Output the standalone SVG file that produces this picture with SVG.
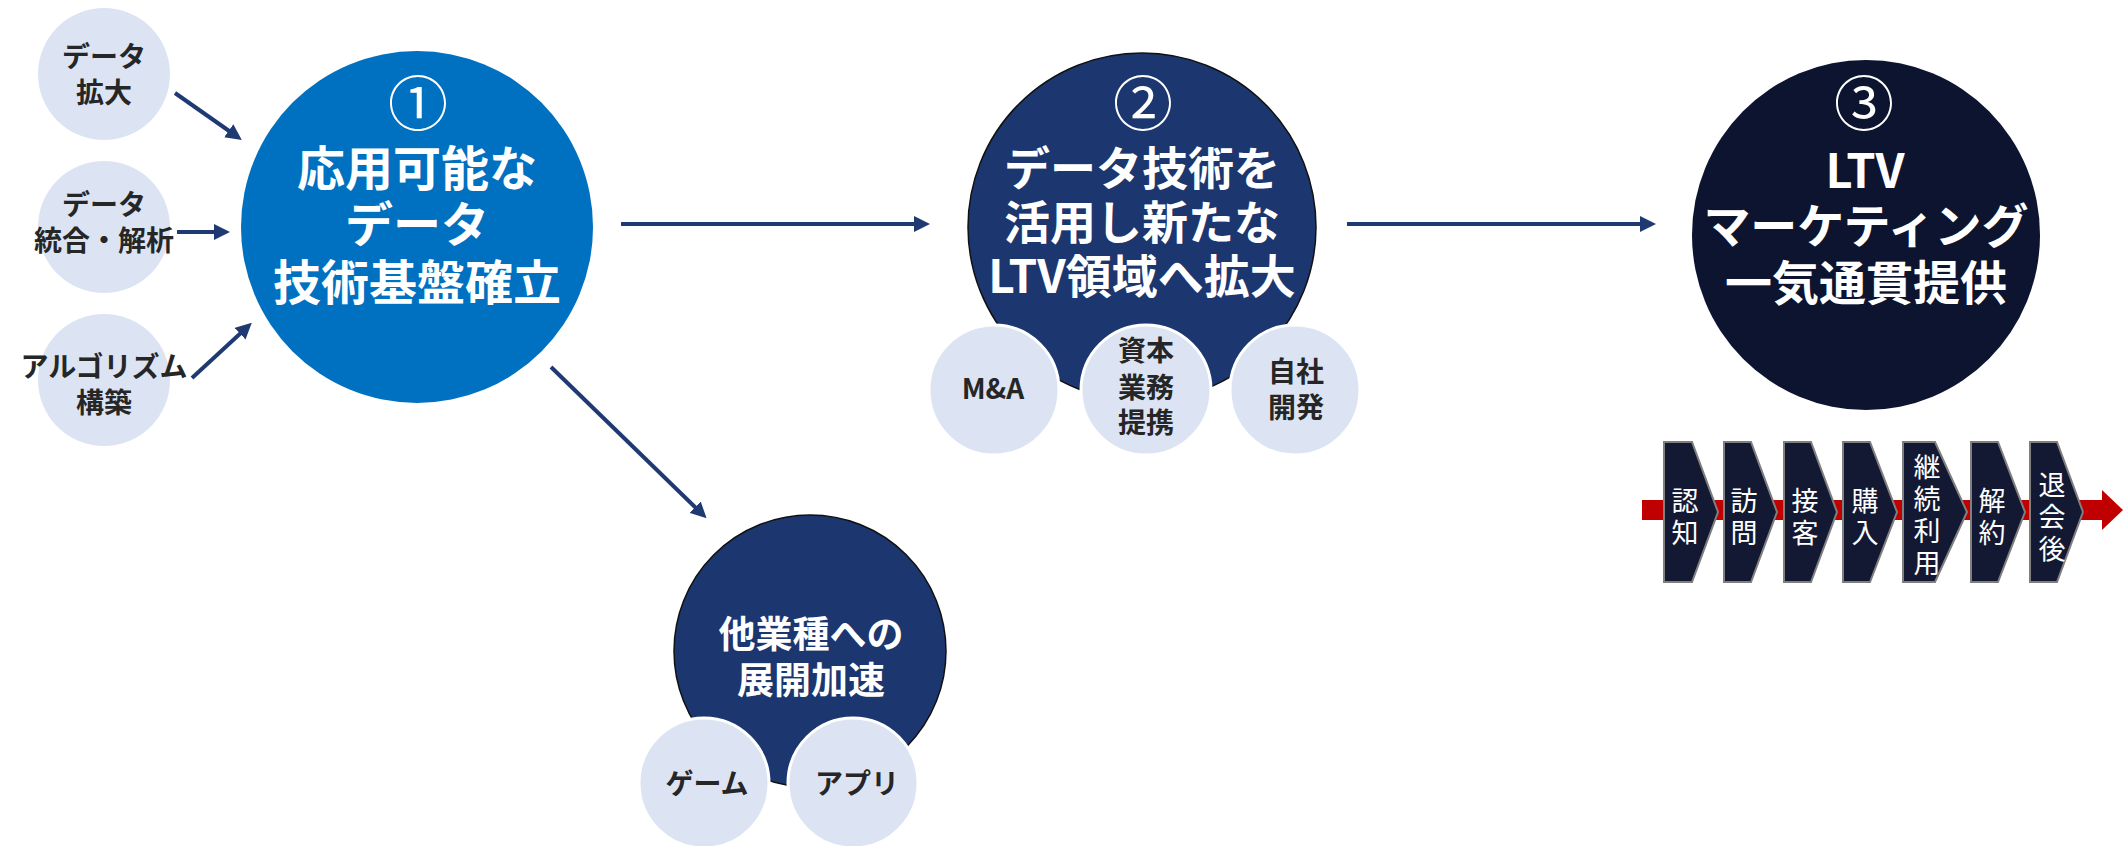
<svg xmlns="http://www.w3.org/2000/svg" width="2124" height="846" viewBox="0 0 2124 846">
<defs>
<style>
.jp{font-family:"Noto Sans CJK JP","Noto Sans",sans-serif;}
.big{font-weight:700;fill:#ffffff;text-anchor:middle;}
.num{font-weight:400;font-size:60px;}
.sm{font-weight:700;fill:#262626;text-anchor:middle;font-size:28px;}
.lc{fill:#DCE4F4;}
.sub{fill:#DCE4F4;stroke:#ffffff;stroke-width:3;}
.conn{stroke:#1F3A72;stroke-width:4;fill:none;marker-end:url(#ah);}
.chev{fill:#141933;stroke:#7F7F7F;stroke-width:2;}
.ct{font-weight:400;fill:#ffffff;text-anchor:middle;font-size:27px;writing-mode:vertical-rl;letter-spacing:5px;}
</style>
<marker id="ah" markerUnits="userSpaceOnUse" markerWidth="16" markerHeight="16" refX="4" refY="8" orient="auto">
<path d="M0,0 L16,8 L0,16 z" fill="#1F3A72"/>
</marker>
</defs>
<rect width="2124" height="846" fill="#ffffff"/>

<g id="in-data-expand">
<circle class="lc" cx="104" cy="74" r="66"/>
<text class="jp sm" x="104" y="67">データ<tspan x="104" dy="36">拡大</tspan></text>
</g>
<g id="in-data-integration">
<circle class="lc" cx="104" cy="227" r="66"/>
<text class="jp sm" x="104" y="215">データ<tspan x="104" dy="36">統合・解析</tspan></text>
</g>
<g id="in-algorithm">
<circle class="lc" cx="104" cy="380" r="66"/>
<text class="jp sm" x="104" y="377">アルゴリズム<tspan x="104" dy="36">構築</tspan></text>
</g>

<g id="step1">
<circle cx="417" cy="227" r="176" fill="#0070C0"/>
<text class="jp big" x="418" y="126" font-size="48"><tspan class="num">①</tspan><tspan x="417" dy="60">応用可能な</tspan><tspan x="417" dy="56">データ</tspan><tspan x="417" dy="58">技術基盤確立</tspan></text>
</g>

<g id="step2">
<circle cx="1142" cy="227" r="174" fill="#1C366F" stroke="#111111" stroke-width="1.5"/>
<text class="jp big" x="1143" y="126" font-size="46"><tspan class="num">②</tspan><tspan x="1142" dy="59">データ技術を</tspan><tspan x="1142" dy="54">活用し新たな</tspan><tspan x="1142" dy="54">LTV領域へ拡大</tspan></text>
</g>
<g id="step2-ma">
<circle class="sub" cx="994" cy="390" r="65"/>
<text class="jp sm" x="993" y="399">M&amp;A</text>
</g>
<g id="step2-alliance">
<circle class="sub" cx="1146" cy="390" r="65"/>
<text class="jp sm" x="1146" y="361">資本<tspan x="1146" dy="37">業務</tspan><tspan x="1146" dy="35">提携</tspan></text>
</g>
<g id="step2-inhouse">
<circle class="sub" cx="1295" cy="390" r="65"/>
<text class="jp sm" x="1296" y="382">自社<tspan x="1296" dy="36">開発</tspan></text>
</g>

<g id="step3">
<ellipse cx="1866" cy="235" rx="174" ry="175" fill="#0C1430"/>
<text class="jp big" x="1864" y="126" font-size="47"><tspan class="num">③</tspan><tspan x="1865" dy="62">LTV</tspan><tspan x="1866" dy="55">マーケティング</tspan><tspan x="1866" dy="57">一気通貫提供</tspan></text>
</g>

<g id="step-other">
<circle cx="810" cy="651" r="136" fill="#1C366F" stroke="#111111" stroke-width="1.5"/>
<text class="jp big" x="811" y="648" font-size="37">他業種への<tspan x="811" dy="46">展開加速</tspan></text>
</g>
<g id="other-game">
<circle class="sub" cx="704" cy="783" r="65"/>
<text class="jp sm" x="707" y="794">ゲーム</text>
</g>
<g id="other-app">
<circle class="sub" cx="853" cy="783" r="65"/>
<text class="jp sm" x="857" y="794">アプリ</text>
</g>

<g id="journey">
<rect x="1642" y="500" width="462" height="20" fill="#C00000"/>
<polygon points="2102,490 2123,510 2102,530" fill="#C00000"/>
<g id="j1"><polygon class="chev" points="1664,442 1692,442 1718,512 1692,582 1664,582"/>
<text class="jp ct" x="1685" y="519">認知</text></g>
<g id="j2"><polygon class="chev" points="1724,442 1751,442 1777,512 1751,582 1724,582"/>
<text class="jp ct" x="1744" y="519">訪問</text></g>
<g id="j3"><polygon class="chev" points="1784,442 1811,442 1837,512 1811,582 1784,582"/>
<text class="jp ct" x="1805" y="519">接客</text></g>
<g id="j4"><polygon class="chev" points="1843,442 1870,442 1897,512 1870,582 1843,582"/>
<text class="jp ct" x="1865" y="519">購入</text></g>
<g id="j5"><polygon class="chev" points="1903,442 1935,442 1967,512 1935,582 1903,582"/>
<text class="jp ct" x="1927" y="517">継続利用</text></g>
<g id="j6"><polygon class="chev" points="1971,442 1998,442 2025,512 1998,582 1971,582"/>
<text class="jp ct" x="1992" y="519">解約</text></g>
<g id="j7"><polygon class="chev" points="2030,442 2057,442 2083,512 2057,582 2030,582"/>
<text class="jp ct" x="2052" y="519">退会後</text></g>
</g>

<g id="connectors">
<line class="conn" x1="175" y1="93" x2="232" y2="133"/>
<line class="conn" x1="177" y1="232" x2="218" y2="232"/>
<line class="conn" x1="192" y1="378" x2="243" y2="331"/>
<line class="conn" x1="621" y1="224" x2="918" y2="224"/>
<line class="conn" x1="1347" y1="224" x2="1644" y2="224"/>
<line class="conn" x1="551" y1="367" x2="698" y2="510"/>
</g>
</svg>
